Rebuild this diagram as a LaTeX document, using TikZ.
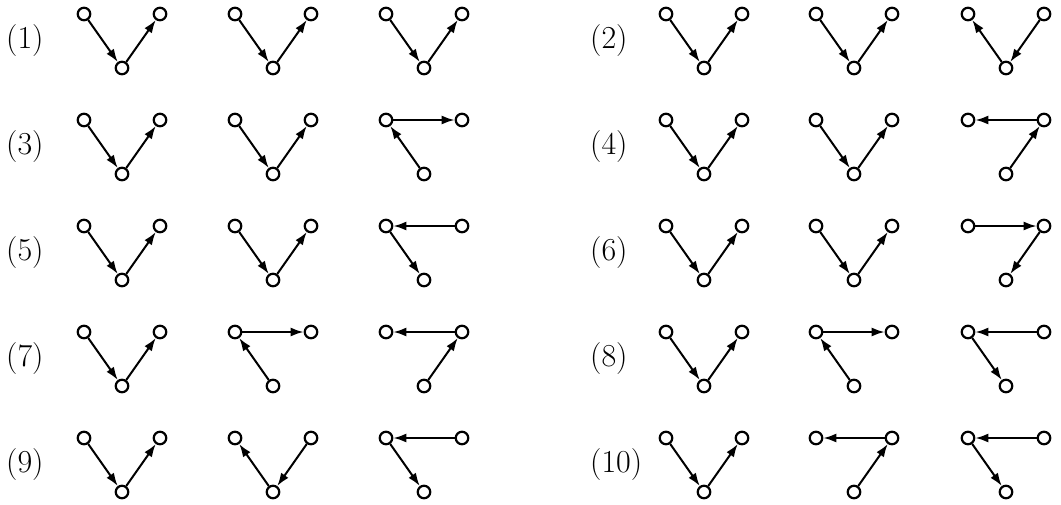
\documentclass[tikz,border=0pt]{standalone}
\usetikzlibrary{arrows.meta}
\tikzset{
  vtx/.style={circle,draw,line width=2.2pt,inner sep=0pt,minimum size=12.5pt,fill=white},
  arr/.style={line width=2pt,-{Latex[length=13pt,width=9pt]}},
  lbl/.style={anchor=west,inner sep=0pt,font=\fontsize{32}{36}\selectfont}
}
\newcommand\grp[3]{%
  \node[vtx] (#1L) at ({#2-38},#3) {};
  \node[vtx] (#1R) at ({#2+38},#3) {};
  \node[vtx] (#1B) at (#2,{#3+54}) {};}
\begin{document}
\begin{tikzpicture}[x=1pt,y=-1pt]
\useasboundingbox (0,0) rectangle (1061,504);
% labels
\node[lbl] (l1) at (6,41) {(1)};
\node[lbl] (l2) at (590,41) {(2)};
\node[lbl] (l3) at (6,147) {(3)};
\node[lbl] (l4) at (590,147) {(4)};
\node[lbl] (l5) at (6,253) {(5)};
\node[lbl] (l6) at (590,253) {(6)};
\node[lbl] (l7) at (6,359) {(7)};
\node[lbl] (l8) at (590,359) {(8)};
\node[lbl] (l9) at (6,465) {(9)};
\node[lbl] (l10) at (590,465) {(10)};
% nodes
\foreach \r/\y in {1/14,2/120,3/226,4/332,5/438}{
  \grp{r\r a}{122}{\y}
  \grp{r\r b}{273}{\y}
  \grp{r\r c}{424}{\y}
  \grp{r\r d}{704}{\y}
  \grp{r\r e}{854}{\y}
  \grp{r\r f}{1006}{\y}
}
% row 1
\draw[arr] (r1aL) -- (r1aB); \draw[arr] (r1aB) -- (r1aR);
\draw[arr] (r1bL) -- (r1bB); \draw[arr] (r1bB) -- (r1bR);
\draw[arr] (r1cL) -- (r1cB); \draw[arr] (r1cB) -- (r1cR);
\draw[arr] (r1dL) -- (r1dB); \draw[arr] (r1dB) -- (r1dR);
\draw[arr] (r1eL) -- (r1eB); \draw[arr] (r1eB) -- (r1eR);
\draw[arr] (r1fB) -- (r1fL); \draw[arr] (r1fR) -- (r1fB);
% row 2
\draw[arr] (r2aL) -- (r2aB); \draw[arr] (r2aB) -- (r2aR);
\draw[arr] (r2bL) -- (r2bB); \draw[arr] (r2bB) -- (r2bR);
\draw[arr] (r2cB) -- (r2cL); \draw[arr] (r2cL) -- (r2cR);
\draw[arr] (r2dL) -- (r2dB); \draw[arr] (r2dB) -- (r2dR);
\draw[arr] (r2eL) -- (r2eB); \draw[arr] (r2eB) -- (r2eR);
\draw[arr] (r2fR) -- (r2fL); \draw[arr] (r2fB) -- (r2fR);
% row 3
\draw[arr] (r3aL) -- (r3aB); \draw[arr] (r3aB) -- (r3aR);
\draw[arr] (r3bL) -- (r3bB); \draw[arr] (r3bB) -- (r3bR);
\draw[arr] (r3cR) -- (r3cL); \draw[arr] (r3cL) -- (r3cB);
\draw[arr] (r3dL) -- (r3dB); \draw[arr] (r3dB) -- (r3dR);
\draw[arr] (r3eL) -- (r3eB); \draw[arr] (r3eB) -- (r3eR);
\draw[arr] (r3fL) -- (r3fR); \draw[arr] (r3fR) -- (r3fB);
% row 4
\draw[arr] (r4aL) -- (r4aB); \draw[arr] (r4aB) -- (r4aR);
\draw[arr] (r4bL) -- (r4bR); \draw[arr] (r4bB) -- (r4bL);
\draw[arr] (r4cR) -- (r4cL); \draw[arr] (r4cB) -- (r4cR);
\draw[arr] (r4dL) -- (r4dB); \draw[arr] (r4dB) -- (r4dR);
\draw[arr] (r4eL) -- (r4eR); \draw[arr] (r4eB) -- (r4eL);
\draw[arr] (r4fR) -- (r4fL); \draw[arr] (r4fL) -- (r4fB);
% row 5
\draw[arr] (r5aL) -- (r5aB); \draw[arr] (r5aB) -- (r5aR);
\draw[arr] (r5bB) -- (r5bL); \draw[arr] (r5bR) -- (r5bB);
\draw[arr] (r5cR) -- (r5cL); \draw[arr] (r5cL) -- (r5cB);
\draw[arr] (r5dL) -- (r5dB); \draw[arr] (r5dB) -- (r5dR);
\draw[arr] (r5eR) -- (r5eL); \draw[arr] (r5eB) -- (r5eR);
\draw[arr] (r5fR) -- (r5fL); \draw[arr] (r5fL) -- (r5fB);
\end{tikzpicture}
\end{document}
